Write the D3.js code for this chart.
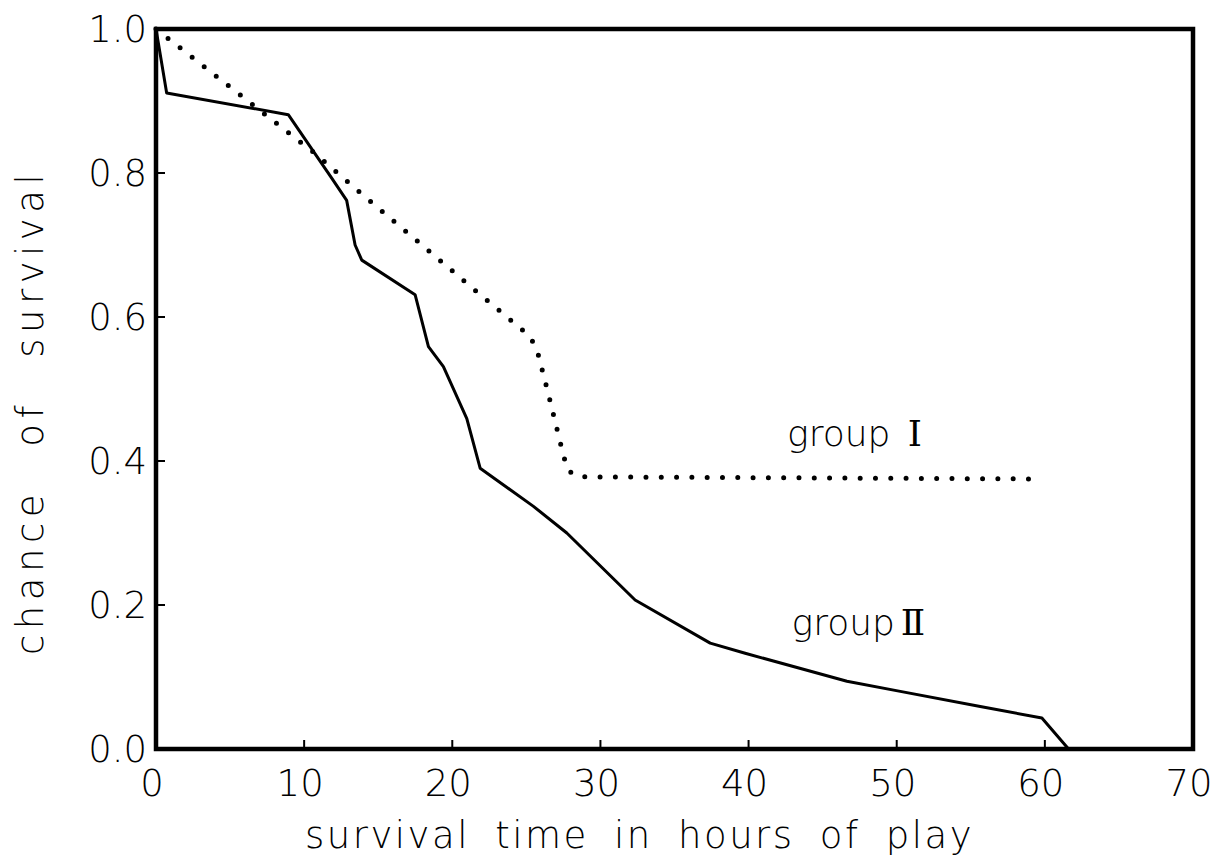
<!DOCTYPE html>
<html>
<head>
<meta charset="utf-8">
<script src="https://cdn.jsdelivr.net/npm/d3@7"></script>
<style>
  html, body { margin: 0; padding: 0; background: #fff; }
  svg { display: block; }
  text { font-family: "DejaVu Sans", sans-serif; fill: #000; font-weight: 200; }
</style>
</head>
<body>
<svg id="chart" width="1220" height="867"></svg>
<script>
// ---- data ----
const xTicks = [0, 10, 20, 30, 40, 50, 60, 70];
const yTicks = [0.0, 0.2, 0.4, 0.6, 0.8, 1.0];

const groupIIx = [0, 0.72, 8.93, 11.86, 12.87, 13.44, 13.89, 17.49, 18.39, 19.40, 20.98, 21.88, 25.48, 27.73, 32.34, 37.41, 39.77, 46.64, 50.24, 55.64, 59.80, 61.6];
const groupIIy = [1.0, 0.911, 0.881, 0.793, 0.762, 0.700, 0.679, 0.631, 0.559, 0.531, 0.459, 0.390, 0.337, 0.300, 0.207, 0.147, 0.133, 0.094, 0.080, 0.059, 0.043, 0.0];

const groupIx = [0, 10.74, 13.93, 17.15, 21.2, 25.2, 25.7, 26.5, 27.5, 27.8, 28.5, 59.8];
const groupIy = [1.0, 0.827, 0.770, 0.714, 0.643, 0.574, 0.556, 0.492, 0.408, 0.387, 0.378, 0.375];

const labels = [
  { name: "group ", numeral: "\u2160", x: 42.6, y: 0.421 },
  { name: "group", numeral: "\u2161", x: 42.9, y: 0.158 }
];

// ---- chart ----
const svg = d3.select("#chart");
const x = d3.scaleLinear().domain([0, 70]).range([156, 1193]);
const y = d3.scaleLinear().domain([0, 1]).range([749, 29]);

// frame
svg.append("rect")
  .attr("x", x(0)).attr("y", y(1))
  .attr("width", x(70) - x(0)).attr("height", y(0) - y(1))
  .attr("fill", "none").attr("stroke", "#000").attr("stroke-width", 4.5);

// x ticks (inward)
svg.append("g").selectAll("line")
  .data(xTicks.filter(d => d > 0 && d < 70)).join("line")
  .attr("x1", d => x(d)).attr("x2", d => x(d))
  .attr("y1", y(0)).attr("y2", y(0) - 9)
  .attr("stroke", "#000").attr("stroke-width", 2);

// y ticks (inward)
svg.append("g").selectAll("line")
  .data(yTicks.filter(d => d > 0 && d < 1)).join("line")
  .attr("x1", x(0)).attr("x2", x(0) + 9)
  .attr("y1", d => y(d)).attr("y2", d => y(d))
  .attr("stroke", "#000").attr("stroke-width", 2);

// x tick labels
svg.append("g").selectAll("text")
  .data(xTicks).join("text")
  .attr("x", d => x(d) - 4).attr("y", 796)
  .attr("text-anchor", "middle")
  .attr("font-size", 37)
  .text(d => d);

// y tick labels
svg.append("g").selectAll("text")
  .data(yTicks).join("text")
  .attr("x", 147).attr("y", d => y(d) + 13)
  .attr("text-anchor", "end")
  .attr("font-size", 37)
  .text(d => d.toFixed(1));

// axis titles
svg.append("text")
  .attr("x", 305).attr("y", 848)
  .attr("font-size", 37)
  .attr("letter-spacing", 2.5).attr("word-spacing", 11)
  .text("survival time in hours of play");

svg.append("text")
  .attr("transform", "translate(43,655) rotate(-90)")
  .attr("font-size", 37)
  .attr("letter-spacing", 5.5).attr("word-spacing", 25)
  .text("chance of survival");

// lines
const line = d3.line().x(d => x(d[0])).y(d => y(d[1]));

svg.append("path")
  .datum(d3.zip(groupIIx, groupIIy))
  .attr("d", line)
  .attr("fill", "none").attr("stroke", "#000").attr("stroke-width", 3)
  .attr("stroke-linejoin", "round");

svg.append("path")
  .datum(d3.zip(groupIx, groupIy))
  .attr("d", line)
  .attr("fill", "none").attr("stroke", "#000").attr("stroke-width", 5)
  .attr("stroke-linecap", "round").attr("stroke-dasharray", "0 15.3");

// group labels
const lab = svg.append("g").selectAll("text").data(labels).join("text")
  .attr("x", d => x(d.x)).attr("y", d => y(d.y))
  .attr("font-size", 36);
lab.append("tspan").text(d => d.name);
lab.append("tspan").attr("font-family", "DejaVu Serif").attr("dx", 6).text(d => d.numeral);
</script>
</body>
</html>
